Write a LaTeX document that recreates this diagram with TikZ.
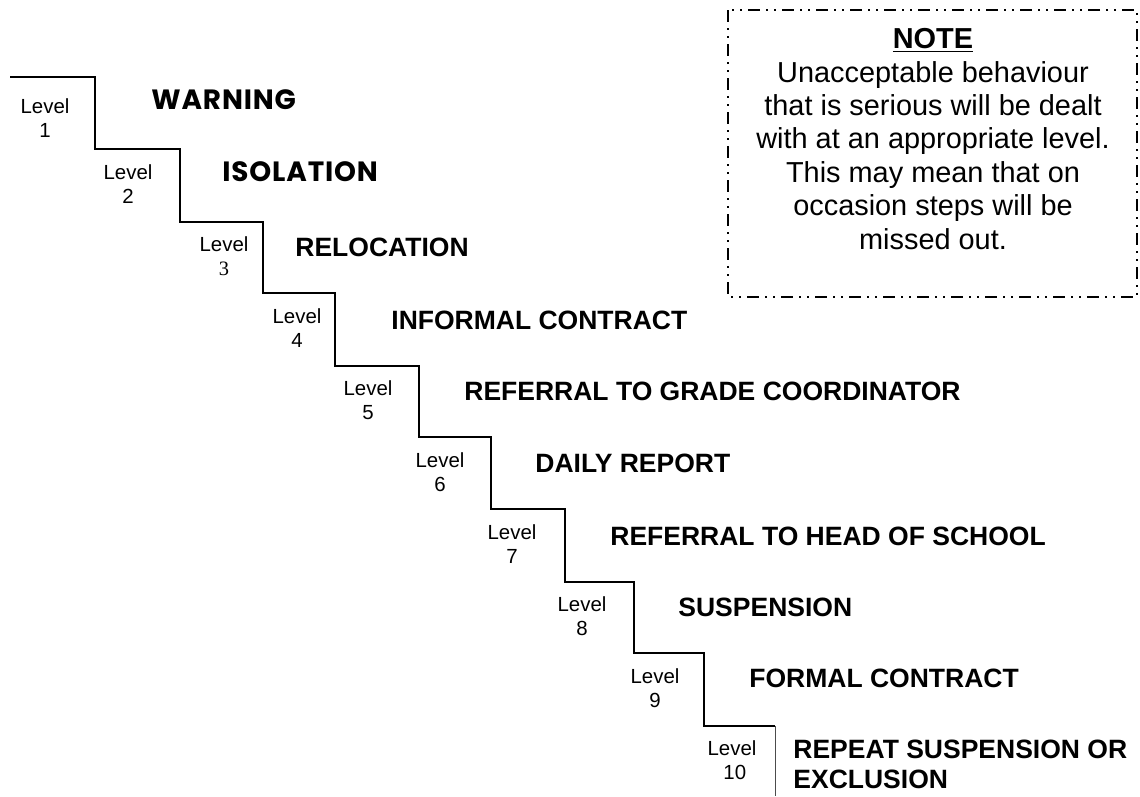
\documentclass[tikz,border=0pt]{standalone}
\usepackage{fontspec}
\setmainfont{Liberation Sans}
\newfontfamily\gillfont{Poppins}[LetterSpace=3]
\newfontfamily\timesfont{Liberation Serif}
\usepackage{tikz}
\tikzstyle{steplabel}=[align=center, inner sep=0pt, font=\fontsize{10.25}{12}\selectfont]
\newcommand{\steplabel}{\node[steplabel]}
\tikzstyle{steptitle}=[anchor=west, inner sep=0pt, font=\fontsize{13.3}{15}\selectfont\bfseries]
\newcommand{\steptitle}{\node[steptitle]}
\tikzstyle{stair}=[line width=0.9bp, line join=miter]
\tikzstyle{notebox}=[line width=0.6bp, dash pattern=on 6bp off 3bp on 1bp off 3bp on 1bp off 3bp]

\begin{document}
\begin{tikzpicture}[x=0.5bp, y=-0.5bp]
    \useasboundingbox (0,0) rectangle (1140,796);
    % the stairs
    \draw[stair] (10,77) -- (95,77) -- (95,149) -- (180,149) -- (180,222)
        -- (263,222) -- (263,293) -- (335,293) -- (335,366) -- (419,366)
        -- (419,437) -- (491,437) -- (491,509) -- (565,509) -- (565,582)
        -- (634,582) -- (634,653) -- (704,653) -- (704,726) -- (775,726);
    \draw[line width=0.5bp, black!70] (775,726) -- (775,796);
    % levels
    \steplabel (L1) at (45,118) {Level\\1};
    \steplabel (L2) at (128,184) {Level\\2};
    \steplabel (L3) at (224,256) {Level\\{\timesfont 3}};
    \steplabel (L4) at (297,328) {Level\\4};
    \steplabel (L5) at (368,400) {Level\\5};
    \steplabel (L6) at (440,472) {Level\\6};
    \steplabel (L7) at (512,544) {Level\\7};
    \steplabel (L8) at (582,616) {Level\\8};
    \steplabel (L9) at (655,688) {Level\\9};
    \steplabel (L10) at (732,760) {Level\\\ 10};
    % what happens at each level
    \steptitle (T1) at (151,100) {\fontsize{14}{15}\selectfont\gillfont WARNING};
    \steptitle (T2) at (222,172) {\fontsize{14}{15}\selectfont\gillfont ISOLATION};
    \steptitle (T3) at (295,247) {RELOCATION};
    \steptitle (T4) at (391,320) {INFORMAL CONTRACT};
    \steptitle (T5) at (464,391) {REFERRAL TO GRADE COORDINATOR};
    \steptitle (T6) at (535,463) {DAILY REPORT};
    \steptitle (T7) at (610,536) {REFERRAL TO HEAD OF SCHOOL};
    \steptitle (T8) at (678,607) {SUSPENSION};
    \steptitle (T9) at (749,678) {FORMAL CONTRACT};
    \steptitle[anchor=north west, align=left] (T10) at (793,740) {REPEAT SUSPENSION OR\\EXCLUSION};
    % note
    \draw[notebox] (728,10) rectangle (1137,297);
    \node[align=center, font=\fontsize{14.5}{16.8}\selectfont] (note) at (933,139)
        {\underline{\textbf{NOTE}}\\Unacceptable behaviour\\that is serious will be dealt\\with at an appropriate level.\\This may mean that on\\occasion steps will be\\missed out.};
\end{tikzpicture}
\end{document}
